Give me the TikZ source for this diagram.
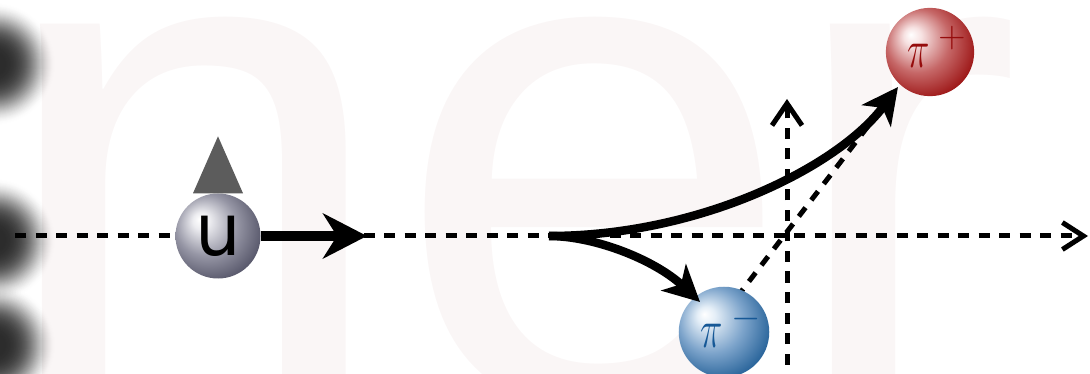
\RequirePackage{fix-cm}
\documentclass[tikz,border=0pt]{standalone}
\usepackage{fontspec}
\usetikzlibrary{arrows.meta}
\newfontfamily\markfont{Liberation Sans}
\newfontfamily\quarkfont{DejaVu Sans}

\definecolor{wm}{RGB}{250,246,246}
\definecolor{spin}{RGB}{92,92,92}
\definecolor{uhi}{RGB}{236,236,240}
\definecolor{umid}{RGB}{150,150,165}
\definecolor{urim}{RGB}{76,76,96}
\definecolor{bhi}{RGB}{228,238,247}
\definecolor{bmid}{RGB}{125,164,203}
\definecolor{brim}{RGB}{25,88,145}
\definecolor{rhi}{RGB}{247,226,226}
\definecolor{rmid}{RGB}{198,104,104}
\definecolor{rrim}{RGB}{150,8,8}
\definecolor{pimtext}{RGB}{22,88,150}
\definecolor{piptext}{RGB}{150,12,12}

% sphere shadings: highlight up-left, darker rim down-right
\pgfdeclareradialshading{uball}{\pgfpoint{-11bp}{10bp}}{%
  color(0bp)=(white); color(5bp)=(uhi); color(18bp)=(umid);
  color(33bp)=(urim); color(50bp)=(urim)}
\pgfdeclareradialshading{pimball}{\pgfpoint{-11bp}{10bp}}{%
  color(0bp)=(white); color(5bp)=(bhi); color(18bp)=(bmid);
  color(33bp)=(brim); color(50bp)=(brim)}
\pgfdeclareradialshading{pipball}{\pgfpoint{-11bp}{10bp}}{%
  color(0bp)=(white); color(5bp)=(rhi); color(18bp)=(rmid);
  color(33bp)=(rrim); color(50bp)=(rrim)}

\newcommand{\pilabel}[1]{\hspace*{14pt}\raisebox{10pt}{\scalebox{0.7}[1]{$\pi$}\kern8pt$^{#1}$}}

\begin{document}
\begin{tikzpicture}[x=1pt,y=-1pt,
    ball/.style={circle, inner sep=0pt, minimum size=85pt, shade},
    axisline/.style={line width=5pt, dash pattern=on 11pt off 9.5pt},
    track/.style={line width=8.5pt, -{Stealth[length=36pt,width=36pt,inset=10pt]}},
    markletter/.style={anchor=base west, inner sep=0pt, text=wm,
      font={\markfont\fontsize{720pt}{720pt}\selectfont}}]
\useasboundingbox (0,0) rectangle (1090,374);
\begin{scope}
\clip (0,0) rectangle (1090,374);

% faint lettering in the background
\node[markletter] (m1) at (-7.5,404) {n};
\node[markletter] (m2) at (394,404) {e};
\node[markletter] (m3) at (782,404) {r};

% soft dark blobs on the left edge: stacked discs, fainter towards the rim
\foreach \cy in {64,240,345}{
  \foreach \r [evaluate=\r as \op using 0.0028*(62-\r)] in {61,60,...,12}
    \fill[black!85, opacity=\op] (-6,\cy) circle[radius=\r pt];
}

% axes
\coordinate (xs) at (15,236);
\coordinate (xe) at (1088,236);
\draw[axisline, -{Straight Barb[length=21pt,width=27pt]}] (xs) -- (xe);
\coordinate (ys) at (787,385);
\coordinate (ye) at (787,99);
\draw[axisline, -{Straight Barb[length=22pt,width=30pt]}] (ys) -- (ye);

% key points
\coordinate (v) at (549,236);
\coordinate (tp) at (898,87);
\coordinate (tm) at (700,302);
\coordinate (utip) at (367,236);
\coordinate (dstart) at (724,314);

% pair direction
\draw[axisline] (dstart) -- (tp);

% incoming quark with spin marker
\node[ball, shading=uball,
  font={\quarkfont\fontsize{72pt}{72pt}\selectfont}] (u) at (218,236) {u};
\fill[spin] ([xshift=-25pt]u.north) -- ([yshift=57pt]u.north)
  -- ([xshift=25pt]u.north) -- cycle;
\draw[line width=10pt, -{Stealth[length=44pt,width=45pt,inset=14pt]}] (u.east) -- (utip);

% outgoing pions
\node[ball, shading=pimball, text=pimtext,
  font={\fontsize{54pt}{54pt}\selectfont}] (pim) at (724,332) {\pilabel{-}};
\node[ball, shading=pipball, text=piptext,
  font={\fontsize{54pt}{54pt}\selectfont}] (pip) at (930,52) {\pilabel{+}};

\draw[track] (v) .. controls (700,236) and (838,167) .. (tp);
\draw[track] (v) .. controls (595,236) and (655,260) .. (tm);
\end{scope}
\end{tikzpicture}
\end{document}
